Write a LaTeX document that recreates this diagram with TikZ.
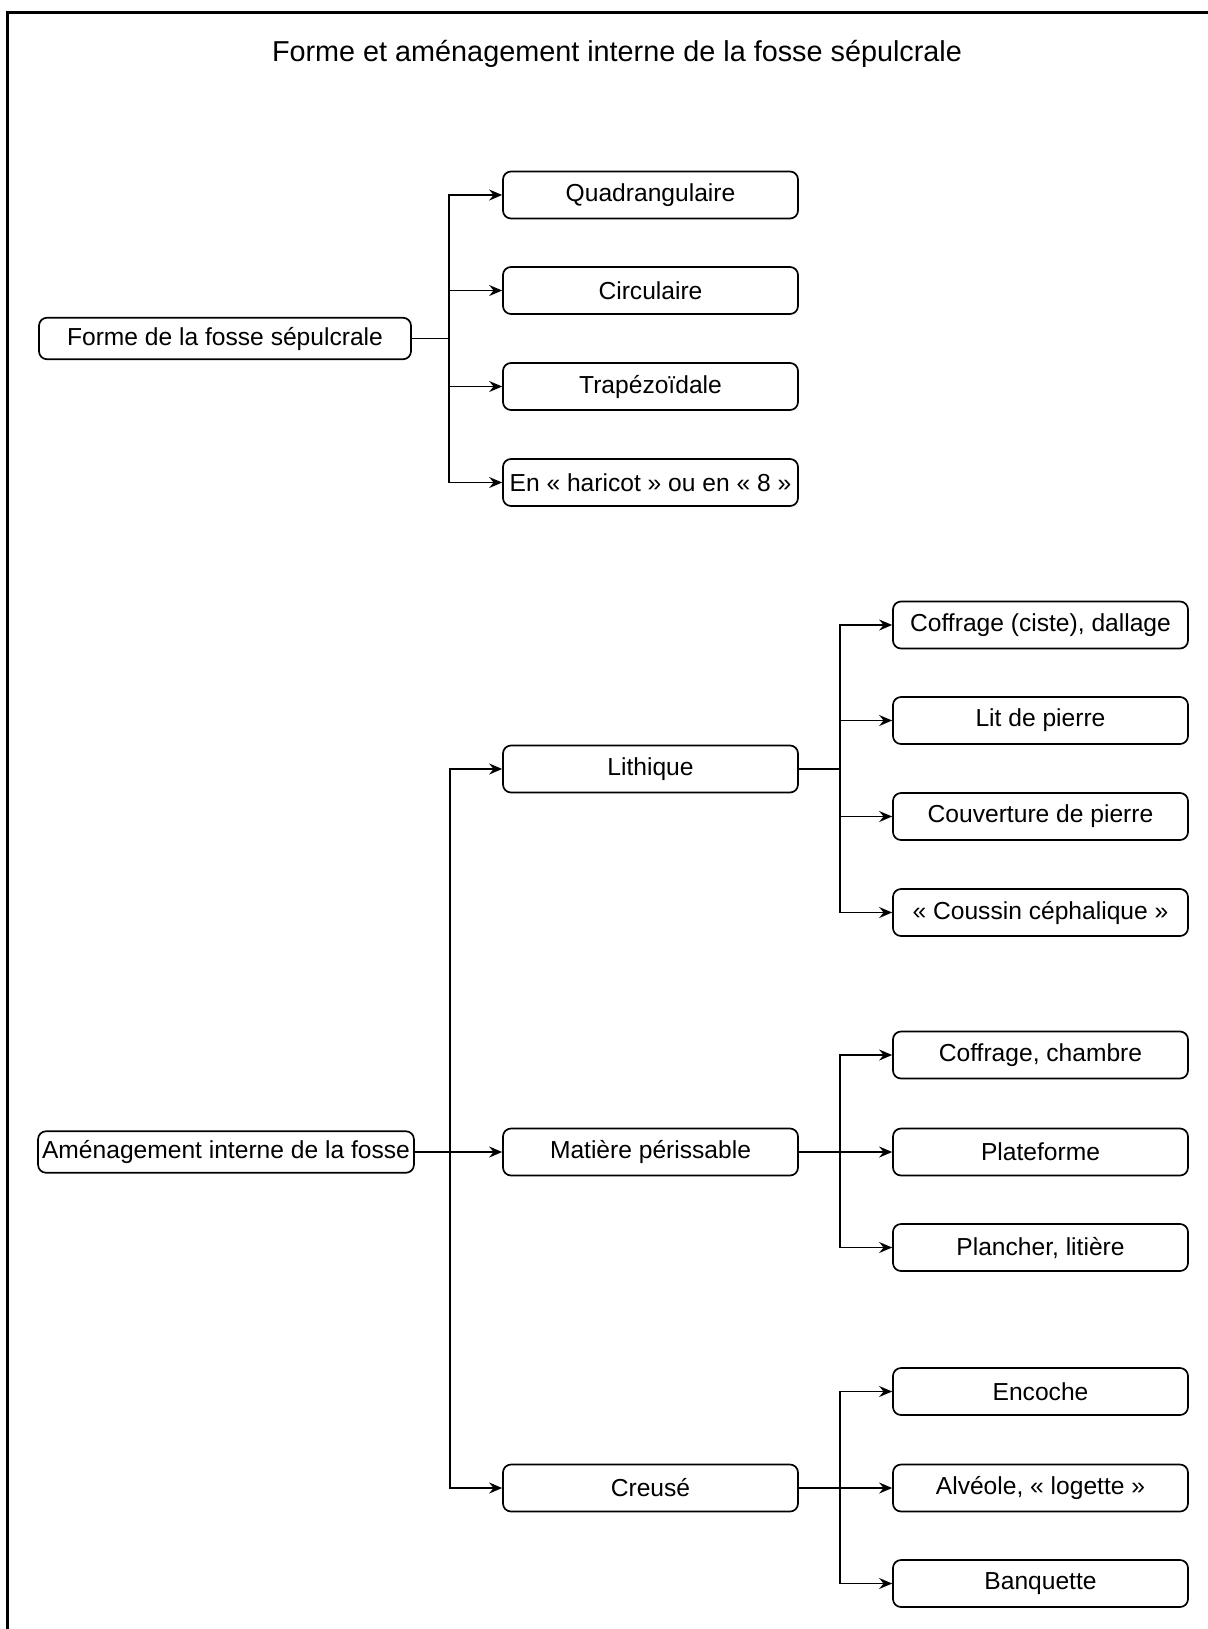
\documentclass[tikz,border=0pt]{standalone}
\usepackage{fontspec}
\setmainfont{Liberation Sans}
\usetikzlibrary{arrows.meta}
\tikzset{
  root/.style={draw,rounded corners=4pt,line width=0.85pt,inner xsep=2pt,inner ysep=0pt,
               minimum height=20.75pt,font=\fontsize{12.3}{14}\selectfont},
  cat/.style={root,minimum width=147.5pt,minimum height=23.5pt},
  flow/.style={-{Stealth[length=6.5pt,width=5.5pt,inset=2.2pt]},line width=0.85pt},
  ttl/.style={font=\fontsize{14.4}{17}\selectfont,inner sep=0pt},
}
\begin{document}
\begin{tikzpicture}[x=0.5pt,y=-0.5pt]
  \useasboundingbox (0,0) rectangle (1208,1629);
  \draw[line width=1.5pt] (7,1629) -- (7,12) -- (1208,12);

  \node[ttl] (title) at (617,54) {Forme et aménagement interne de la fosse sépulcrale};

  \node[root,minimum width=186pt] (forme) at (225,338.5) {Forme de la fosse sépulcrale};
  \node[cat] (quad) at (650.5,195)   {Quadrangulaire};
  \node[cat] (circ) at (650.5,290.5) {Circulaire};
  \node[cat] (trap) at (650.5,386.5) {Trapézoïdale};
  \node[cat] (hari) at (650.5,482.5) {En « haricot » ou en « 8 »};

  \node[root,minimum width=187pt] (amen) at (226,1152) {Aménagement interne de la fosse};
  \node[cat] (lith) at (650.5,769)  {Lithique};
  \node[cat] (mat)  at (650.5,1152) {Matière périssable};
  \node[cat] (creu) at (650.5,1488) {Creusé};

  \node[cat] (cof)    at (1040.5,625)    {Coffrage (ciste), dallage};
  \node[cat] (lit)    at (1040.5,720.5)  {Lit de pierre};
  \node[cat] (couv)   at (1040.5,816.5)  {Couverture de pierre};
  \node[cat] (cous)   at (1040.5,912.5)  {« Coussin céphalique »};
  \node[cat] (cofch)  at (1040.5,1055)   {Coffrage, chambre};
  \node[cat] (plat)   at (1040.5,1152)   {Plateforme};
  \node[cat] (planch) at (1040.5,1247.5) {Plancher, litière};
  \node[cat] (enc)    at (1040.5,1391.5) {Encoche};
  \node[cat] (alv)    at (1040.5,1488)   {Alvéole, « logette »};
  \node[cat] (banq)   at (1040.5,1583.5) {Banquette};

  \draw[flow] (forme.east) -- ++(37,0) |- (quad);
  \draw[flow] (forme.east) -- ++(37,0) |- (circ);
  \draw[flow] (forme.east) -- ++(37,0) |- (trap);
  \draw[flow] (forme.east) -- ++(37,0) |- (hari);

  \draw[flow] (amen.east) -- ++(35,0) |- (lith);
  \draw[flow] (amen.east) -- (mat);
  \draw[flow] (amen.east) -- ++(35,0) |- (creu);

  \draw[flow] (lith.east) -- ++(41,0) |- (cof);
  \draw[flow] (lith.east) -- ++(41,0) |- (lit);
  \draw[flow] (lith.east) -- ++(41,0) |- (couv);
  \draw[flow] (lith.east) -- ++(41,0) |- (cous);

  \draw[flow] (mat.east) -- ++(41,0) |- (cofch);
  \draw[flow] (mat.east) -- (plat);
  \draw[flow] (mat.east) -- ++(41,0) |- (planch);

  \draw[flow] (creu.east) -- ++(41,0) |- (enc);
  \draw[flow] (creu.east) -- (alv);
  \draw[flow] (creu.east) -- ++(41,0) |- (banq);
\end{tikzpicture}
\end{document}
